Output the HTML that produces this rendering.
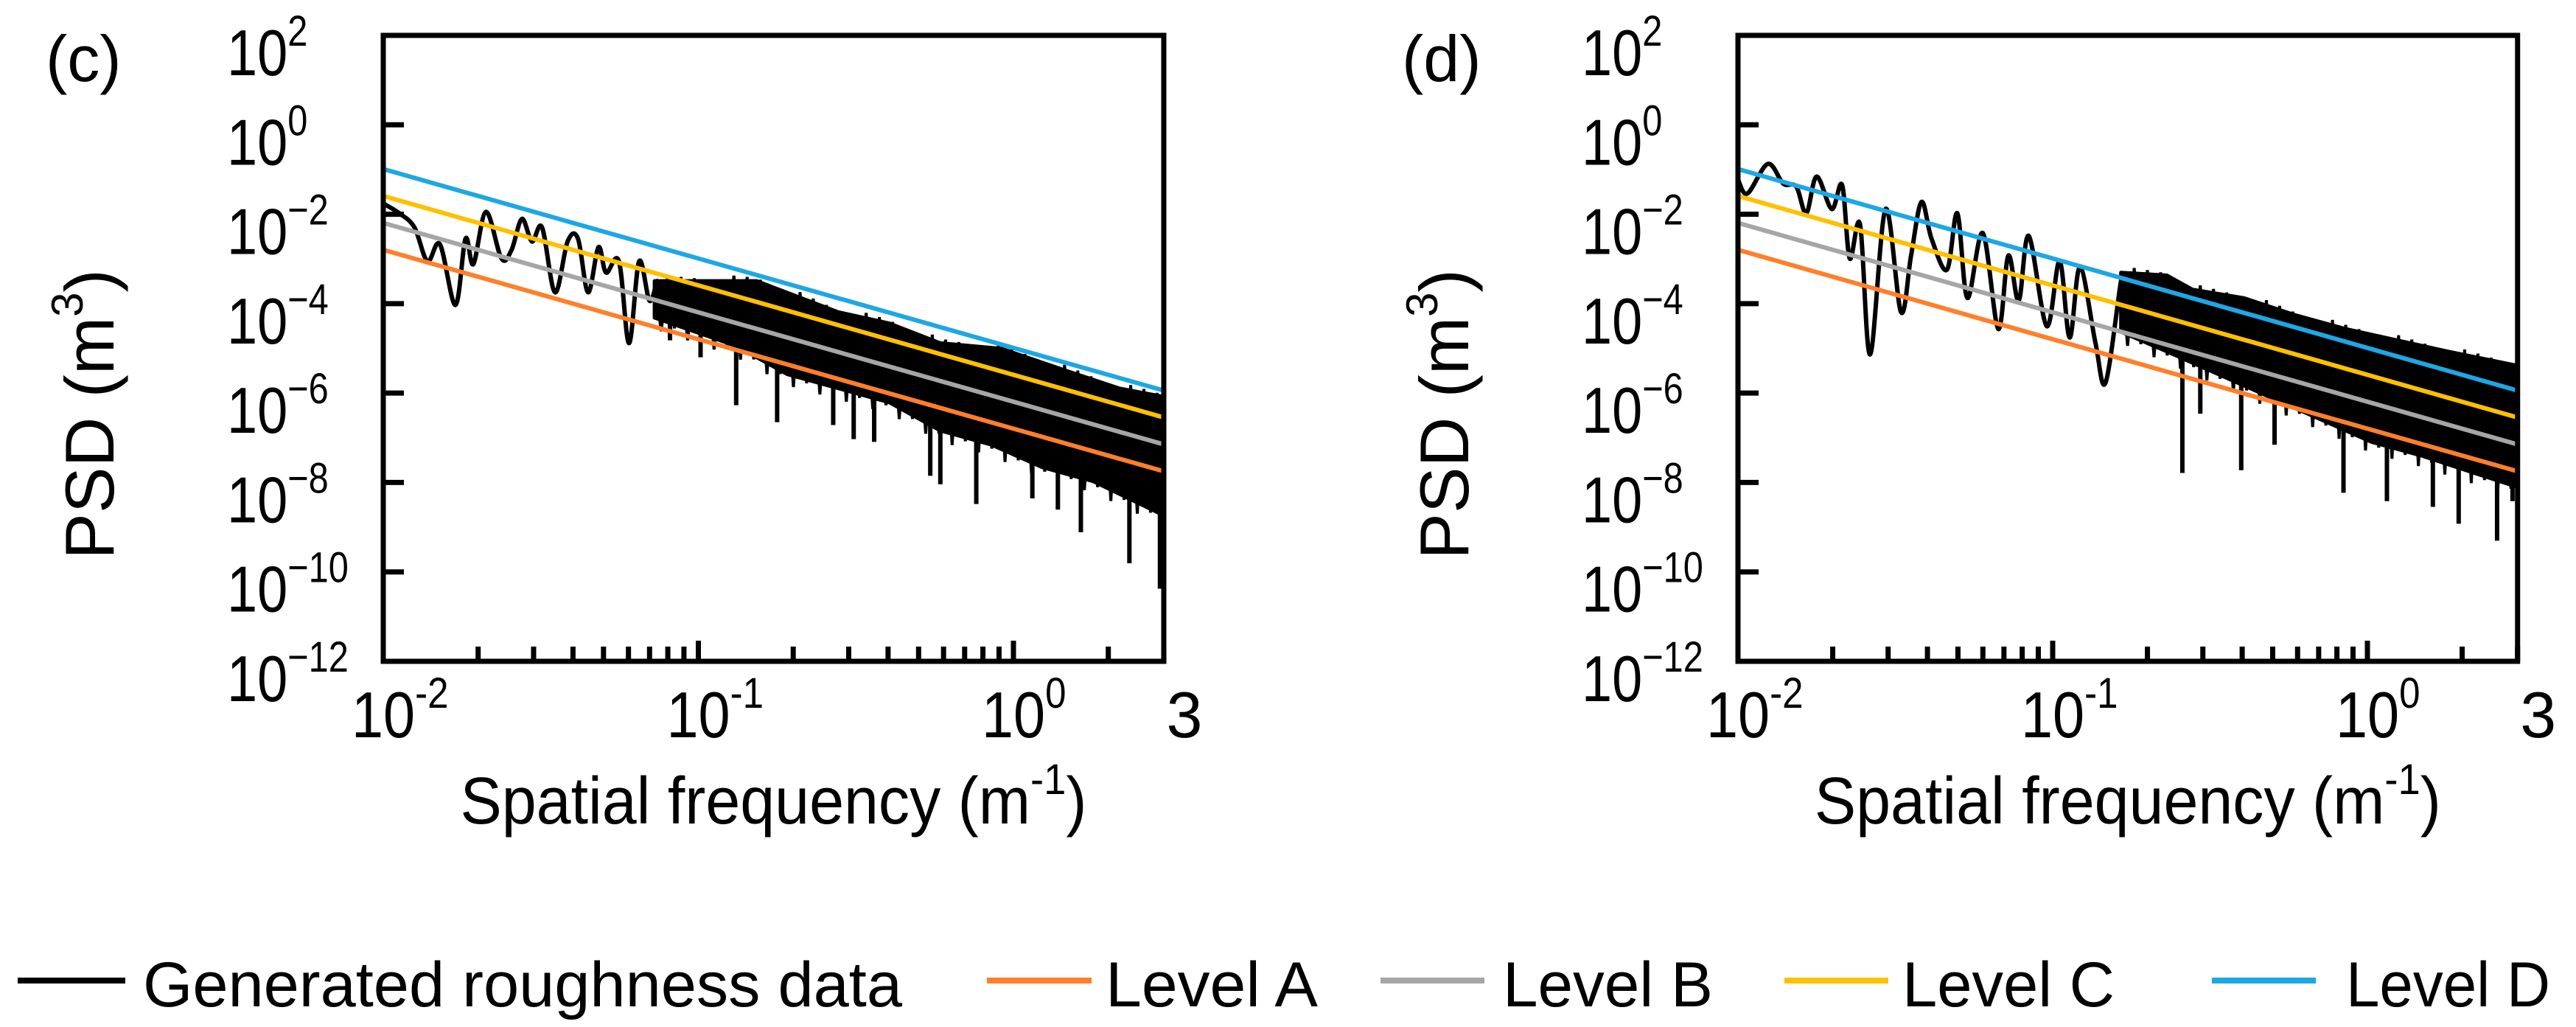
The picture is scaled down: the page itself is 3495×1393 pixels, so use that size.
<!DOCTYPE html>
<html><head><meta charset="utf-8"><style>
html,body{margin:0;padding:0;background:#fff;}
svg{display:block;font-family:"Liberation Sans",Arial,sans-serif;}
</style></head><body>
<svg id="fig" width="3495" height="1393" viewBox="0 0 3495 1393" xmlns="http://www.w3.org/2000/svg"></svg>
<script>
// ---- data (log10 values) ----
const levelNames = ["Level A","Level B","Level C","Level D"];
const levelColors = ["#ff7f2a","#a6a6a6","#ffc000","#1ea7e4"];
const levelGd = [16e-6, 64e-6, 256e-6, 1024e-6]; // PSD at n0 = 0.1 m^-1
const levelN0 = 0.1;
const levelW = 2;
const yTickExp = [2,0,-2,-4,-6,-8,-10,-12];
const xTickExp = [-2,-1,0];

// panel (c)
const cOscLogF = [-2.0,-1.949,-1.901,-1.860,-1.820,-1.771,-1.739,-1.714,-1.674,-1.625,-1.593,-1.560,-1.528,-1.496,-1.455,-1.415,-1.382,-1.350,-1.317,-1.293,-1.252,-1.220,-1.188,-1.155,-1.131];
const cOscLogP = [-1.758,-1.979,-2.295,-3.052,-2.674,-4.031,-2.547,-3.115,-1.947,-2.989,-2.800,-2.105,-2.610,-2.295,-3.747,-2.610,-2.547,-3.747,-2.737,-3.305,-3.052,-4.883,-3.052,-3.936,-3.494];
const cUpLogF = [-1.139,-0.815,-0.556,-0.394,-0.232,-0.037,0.173,0.335,0.477];
const cUpLogP = [-3.494,-3.494,-4.189,-4.441,-4.883,-5.009,-5.514,-5.893,-6.083];
const cLoLogF = [-1.139,-0.880,-0.718,-0.394,-0.232,-0.070,0.092,0.254,0.477];
const cLoLogP = [-4.315,-4.946,-5.578,-6.209,-6.840,-7.156,-7.661,-7.976,-8.734];
const cSpikeLogF = [-1.090,-1.042,-0.993,-0.880,-0.750,-0.572,-0.507,-0.442,-0.264,-0.232,-0.118,0.060,0.141,0.214,0.368,0.465];
const cSpikeLogP = [-4.820,-4.315,-5.199,-6.272,-6.651,-6.714,-7.030,-7.093,-7.850,-8.040,-8.482,-8.355,-8.608,-9.113,-9.807,-10.375];

// panel (d)
const dOscLogF = [-2.0,-1.970,-1.905,-1.856,-1.815,-1.783,-1.750,-1.702,-1.669,-1.645,-1.612,-1.580,-1.531,-1.482,-1.450,-1.417,-1.385,-1.336,-1.303,-1.271,-1.222,-1.173,-1.141,-1.108,-1.076,-1.019,-0.978,-0.946,-0.913,-0.864,-0.832,-0.783];
const dOscLogP = [-1.221,-1.537,-0.874,-1.316,-1.379,-1.979,-1.158,-1.884,-1.348,-2.989,-2.232,-5.136,-1.884,-4.189,-2.926,-1.726,-2.547,-3.242,-1.979,-3.873,-2.421,-4.567,-2.926,-3.936,-2.484,-4.504,-3.052,-4.757,-3.179,-4.883,-5.767,-3.494];
const dUpLogF = [-0.783,-0.637,-0.556,-0.393,-0.231,-0.068,0.095,0.257,0.477];
const dUpLogP = [-3.305,-3.368,-3.684,-3.873,-4.252,-4.567,-4.820,-5.072,-5.388];
const dLoLogF = [-0.783,-0.637,-0.474,-0.312,-0.149,0.013,0.176,0.339,0.477];
const dLoLogP = [-4.630,-5.072,-5.578,-6.083,-6.588,-7.093,-7.409,-7.787,-8.103];
const dSpikeLogF = [-0.588,-0.531,-0.401,-0.295,-0.076,0.062,0.208,0.290,0.412,0.461];
const dSpikeLogP = [-7.787,-6.461,-7.724,-7.156,-8.229,-8.418,-8.545,-8.923,-9.302,-8.418];

const NS = "http://www.w3.org/2000/svg";
const svg = document.getElementById('fig');
function mk(tag, attrs, parent){ const e=document.createElementNS(NS,tag); for(const k in attrs) e.setAttribute(k,attrs[k]); (parent||svg).appendChild(e); return e; }

function interp(xs, ys, x){
  if (x<=xs[0]) return ys[0];
  for (let i=1;i<xs.length;i++){ if (x<=xs[i]) { const t=(x-xs[i-1])/(xs[i]-xs[i-1]); return ys[i-1]+t*(ys[i]-ys[i-1]); } }
  return ys[ys.length-1];
}
function smoothPath(P){
  let d='M'+P[0][0]+','+P[0][1];
  for (let i=0;i<P.length-1;i++){
    const p0=P[Math.max(0,i-1)], p1=P[i], p2=P[i+1], p3=P[Math.min(P.length-1,i+2)];
    const c1=[p1[0]+(p2[0]-p0[0])/6, p1[1]+(p2[1]-p0[1])/6];
    const c2=[p2[0]-(p3[0]-p1[0])/6, p2[1]-(p3[1]-p1[1])/6];
    d+=' C'+c1[0]+','+c1[1]+' '+c2[0]+','+c2[1]+' '+p2[0]+','+p2[1];
  }
  return d;
}

function panel(cfg){
  const g = mk('g',{});
  
  
  const L=cfg.left, T=48, B=897, dec=cfg.dec, ydec=(B-T)/14;
  const R = L + (Math.log10(3)+2)*dec;
  const X = lf => L + (lf+2)*dec;
  const Y = lp => T + (2-lp)*ydec;

  const cid='clip'+cfg.tag;
  const cp = mk('clipPath',{id:cid}, g); mk('rect',{x:L,y:T,width:R-L,height:B-T},cp);
  const plot = mk('g',{'clip-path':'url(#'+cid+')'}, g);

  // data band
  let d='M'+X(cfg.upF[0])+','+Y(cfg.upP[0]);
  for (let i=1;i<cfg.upF.length;i++) d+=' L'+X(cfg.upF[i])+','+Y(cfg.upP[i]);
  for (let i=cfg.loF.length-1;i>=0;i--) d+=' L'+X(cfg.loF[i])+','+Y(cfg.loP[i]);
  d+='Z';
  const band = mk('path',{d:d,fill:'#000',stroke:'#000','stroke-width':5,'stroke-linejoin':'round'}, plot);
  
  
  // dense zig-zag texture within envelope
  const f0=cfg.upF[0], f1=cfg.upF[cfg.upF.length-1];
  let zz=[]; const n=Math.round((X(f1)-X(f0))/9);
  for (let k=0;k<=n;k++){
    const f=f0+(f1-f0)*k/n;
    const u=interp(cfg.upF,cfg.upP,f), lo=interp(cfg.loF,cfg.loP,f);
    const v = (k%2===0)? u+0.12*((k*7)%5)/4 : lo-0.25*((k*3)%4)/3;
    zz.push(X(f)+','+Y(v));
  }
  const zl = mk('polyline',{points:zz.join(' '),fill:'none',stroke:'#000','stroke-width':4}, plot);
  
  
  // oscillating low-frequency part
  const P = cfg.oscF.map((f,i)=>[X(f),Y(cfg.oscP[i])]);
  P.push([X(cfg.upF[0]),Y((cfg.upP[0]+cfg.loP[0])/2)]);
  const osc = mk('path',{d:smoothPath(P),fill:'none',stroke:'#000','stroke-width':6,'stroke-linejoin':'round'}, plot);
  
  
  // spikes
  cfg.spF.forEach((f,i)=>{
    const top = Math.max(interp(cfg.loF,cfg.loP,f), Math.min(cfg.spP[i]+1.2, interp(cfg.upF,cfg.upP,f)));
    const s = mk('line',{x1:X(f),x2:X(f),y1:Y(top),y2:Y(cfg.spP[i]),stroke:'#000','stroke-width':6}, plot);
    
    
  });
  // level lines
  levelGd.forEach((gd,i)=>{
    const lp = f => Math.log10(gd) - levelW*(f - Math.log10(levelN0));
    const ln = mk('line',{x1:X(-2),y1:Y(lp(-2)),x2:X(Math.log10(3)),y2:Y(lp(Math.log10(3))),stroke:levelColors[i],'stroke-width':6}, plot);
    
    
  });

  const fr = mk('rect',{x:L,y:T,width:R-L,height:B-T,fill:'none',stroke:'#000','stroke-width':7}, g);
  
  

  yTickExp.forEach(e=>{
    const y=Y(e);
    if (e<2 && e>-12) { const t=mk('line',{x1:L,x2:L+28,y1:y,y2:y,stroke:'#000','stroke-width':7},g);
        }
    const tg = mk('g',{transform:'translate('+(L-212)+','+(y+54)+') scale(0.84,1)'}, g);
    const tx = mk('text',{x:0,y:0,'font-size':88,fill:'#000'}, tg);
    
    
    tx.appendChild(document.createTextNode('10'));
    const sp = mk('tspan',{'font-size':58,dy:-40}, tx);
    sp.textContent = (e<0?'\u2212':'')+Math.abs(e);
  });
  for (let e=-2;e<=0;e++){
    for (let m=1;m<=9;m++){
      const f=Math.log10(m)+e; if (f>Math.log10(3)+1e-9) break;
      if (e===-2 && m===1) continue;
      const x=X(f); const len = m===1?28:20;
      const t=mk('line',{x1:x,x2:x,y1:B,y2:B-len,stroke:'#000','stroke-width':7},g);
       
    }
  }
  xTickExp.forEach(e=>{
    const x=X(e);
    const tg = mk('g',{transform:'translate('+(x-43)+',1000) scale(0.88,1)'}, g);
    const tx = mk('text',{x:0,y:0,'font-size':88,fill:'#000'}, tg);
    
    
    tx.appendChild(document.createTextNode('10'));
    const sp = mk('tspan',{'font-size':58,dy:-40}, tx); sp.textContent = (e<0?'-':'')+Math.abs(e);
  });
  const t3 = mk('text',{x:R+28,y:1000,'font-size':88,'text-anchor':'middle',fill:'#000'}, g);
   
  t3.textContent='3';

  const xt = mk('text',{x:(L+R)/2,y:1117,'font-size':90,'text-anchor':'middle',fill:'#000',textLength:850,lengthAdjust:'spacingAndGlyphs'}, g);
   
  xt.appendChild(document.createTextNode('Spatial frequency (m'));
  const xs = mk('tspan',{'font-size':58,dy:-40},xt); xs.textContent='-1';
  const xs2 = mk('tspan',{dy:40},xt); xs2.textContent=')';

  const yt = mk('text',{x:0,y:0,'font-size':94,'text-anchor':'middle',fill:'#000',transform:'translate('+(L-366)+',562) rotate(-90)'}, g);
   
  yt.appendChild(document.createTextNode('PSD (m'));
  const ys = mk('tspan',{'font-size':60,dy:-42},yt); ys.textContent='3';
  const ys2 = mk('tspan',{dy:42},yt); ys2.textContent=')';

  const pl = mk('text',{x:cfg.lblX,y:110,'font-size':88,fill:'#000'}, g);
   
  pl.textContent=cfg.tag==='c'?'(c)':'(d)';
}

panel({name:'panel-c',tag:'c',left:520,dec:427.5,lblX:62,oscF:cOscLogF,oscP:cOscLogP,upF:cUpLogF,upP:cUpLogP,loF:cLoLogF,loP:cLoLogP,spF:cSpikeLogF,spP:cSpikeLogP});
panel({name:'panel-d',tag:'d',left:2358,dec:427,lblX:1902,oscF:dOscLogF,oscP:dOscLogP,upF:dUpLogF,upP:dUpLogP,loF:dLoLogF,loP:dLoLogP,spF:dSpikeLogF,spP:dSpikeLogP});

const legendLabels = ["Generated roughness data"].concat(levelNames);
const legendColors = ["#000"].concat(levelColors);
const legX1=[24,1339,1873,2421,3001], legX2=[170,1481,2014,2562,3142], legTX=[194,1500,2039,2581,3183], legTW=[1030,288,285,288,277];
const lg = mk('g',{});
 
legendLabels.forEach((lab,i)=>{
  const l = mk('line',{x1:legX1[i],x2:legX2[i],y1:1330,y2:1330,stroke:legendColors[i],'stroke-width':8},lg);
   
  const t = mk('text',{x:legTX[i],y:1365,'font-size':86,fill:'#000',textLength:legTW[i],lengthAdjust:'spacingAndGlyphs'},lg);
   
  t.textContent=lab;
});
</script>
</body></html>
